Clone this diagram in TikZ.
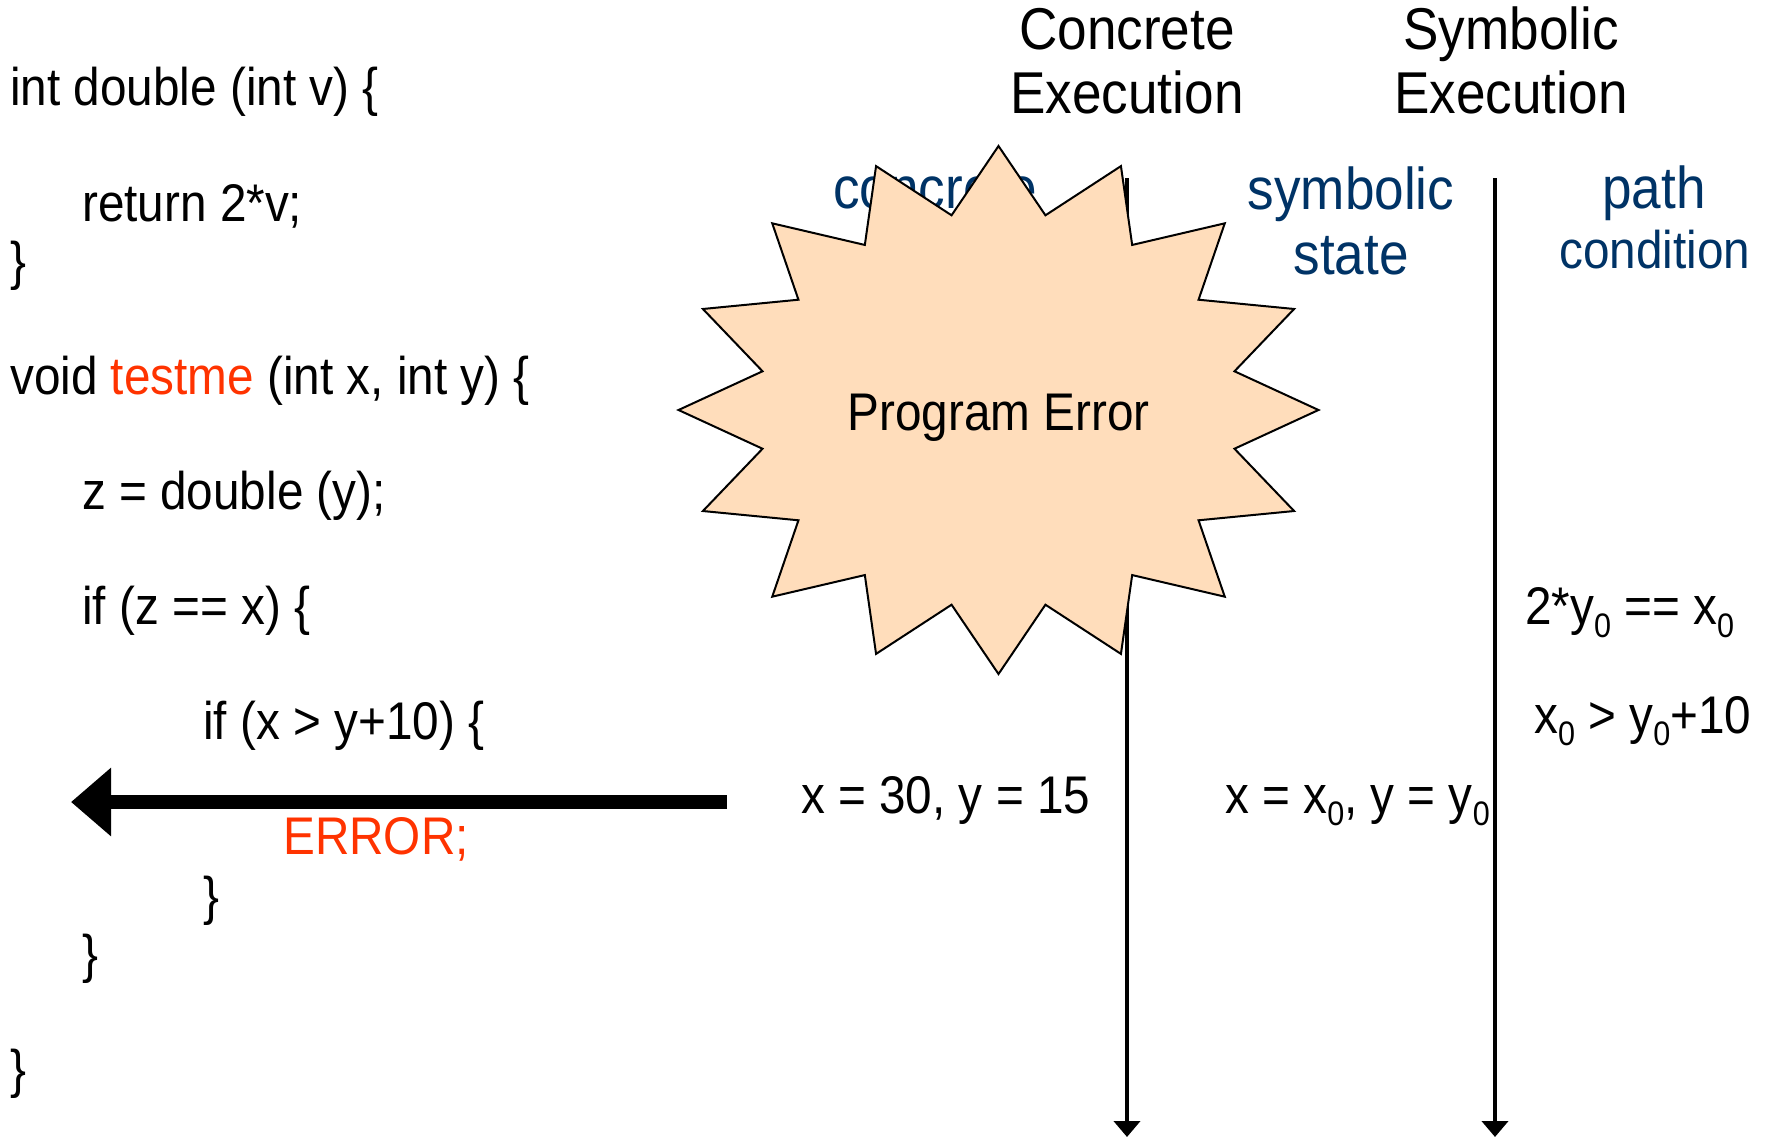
\documentclass[tikz,border=0pt]{standalone}
\usepackage{fontspec}
\setmainfont{Liberation Sans}[FakeStretch=0.9]
\usetikzlibrary{arrows.meta,shapes.geometric}
\definecolor{errred}{HTML}{FF3300}
\definecolor{headblue}{HTML}{003366}
\definecolor{burstfill}{HTML}{FFDDBB}
\newcommand{\lowsub}[1]{\raisebox{-0.24em}{\fontsize{34}{34}\selectfont #1}}

\begin{document}
\begin{tikzpicture}[
		x=1pt,
		y=-1pt,
		code/.style={anchor=base west,inner sep=0pt,font=\fontsize{53}{60}\selectfont},
		title/.style={align=center,inner sep=0pt,font=\fontsize{59}{64.5}\selectfont},
		state/.style={title,text=headblue},
		axis/.style={line width=4.5pt,-{Triangle[length=16pt,width=26pt]}},
		errarrow/.style={line width=14.5pt,-{Triangle[length=40pt,width=66pt]}},
		burst/.style={draw,line width=2pt,fill=burstfill,star,star points=16,star point ratio=1.33,
			minimum size=528pt,inner sep=0pt,xscale=1.212,transform shape}
		]
		\useasboundingbox (0,0) rectangle (1767,1138);
		
		% =====================================================
		% Program
		% =====================================================
		\node[code] (l1) at (10,105.5) {int double (int v) \{};
		\node[code] (l2) at (82,221.5) {return 2*v;};
		\node[code] (l3) at (10,279) {\}};
		\node[code] (l4) at (10,394.5) {void \textcolor{errred}{testme} (int x, int y) \{};
		\node[code] (l5) at (82,509.5) {z = double (y);};
		\node[code] (l6) at (82,624.5) {if (z == x) \{};
		\node[code] (l7) at (203,739.5) {if (x > y+10) \{};
		\node[code,text=errred] (l8) at (283,854.5) {ERROR;};
		\node[code] (l9) at (203,914) {\}};
		\node[code] (l10) at (82,972) {\}};
		\node[code] (l11) at (10,1087) {\}};
		
		% =====================================================
		% Column heads
		% =====================================================
		\node[title] (conc) at (1127,61) {Concrete\\Execution};
		\node[title] (symb) at (1511,60.5) {Symbolic\\Execution};
		\node[state] (cstate) at (935,190) {concrete};
		\node[state] (sstate) at (1351,221) {symbolic\\state};
		\node[state] (path) at (1654,193) {path};
		\node[state,font=\fontsize{53}{60}\selectfont] (cond) at (1655,250) {condition};
		
		% =====================================================
		% Values
		% =====================================================
		\node[code] (cval) at (801,813) {x = 30, y = 15};
		\node[code] (sval) at (1225,813) {x = x\lowsub{0}, y = y\lowsub{0}};
		\node[code] (pc1) at (1525,624.5) {2*y\lowsub{0} == x\lowsub{0}};
		\node[code] (pc2) at (1534,733) {x\lowsub{0} > y\lowsub{0}+10};
		
		% =====================================================
		% Arrows
		% =====================================================
		\coordinate (ctop) at (1127,178);
		\coordinate (cend) at (1127,1137);
		\coordinate (stop) at (1495,178);
		\coordinate (send) at (1495,1137);
		\coordinate (errstart) at (727,802);
		\coordinate (errend) at (71,802);
		
		\draw[axis] (ctop) -- (cend);
		\draw[axis] (stop) -- (send);
		\draw[errarrow] (errstart) -- (errend);
		
		% =====================================================
		% Error burst, drawn on top
		% =====================================================
		\node[burst] (star) at (998.5,410) {};
		\node[code,anchor=center,yshift=-8pt] (msg) at (star.center) {Program Error};
		
	\end{tikzpicture}
\end{document}
